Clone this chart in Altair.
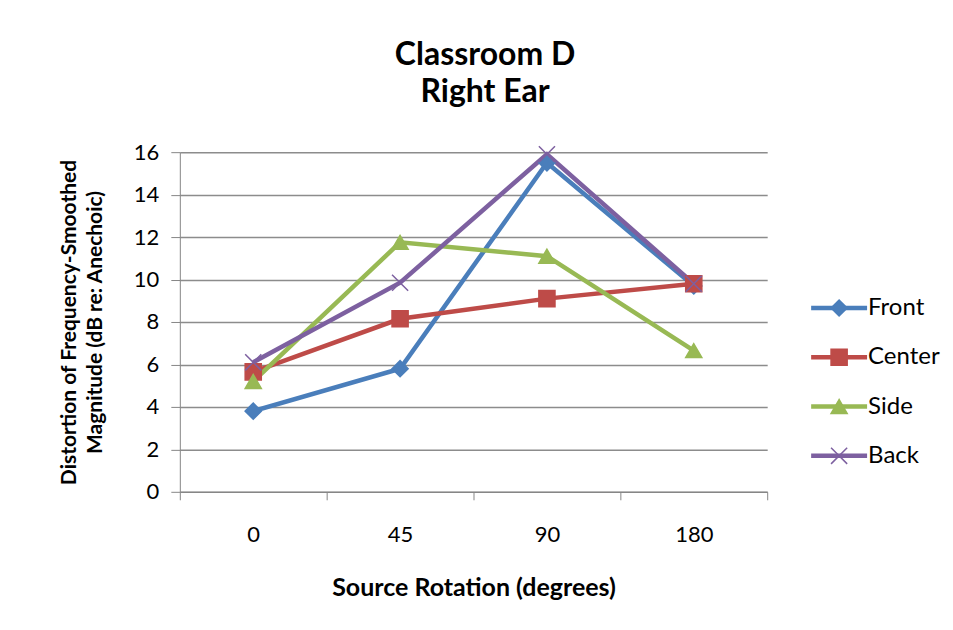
import altair as alt
import pandas as pd

rotations = ["0", "45", "90", "180"]
series_names = ["Front", "Center", "Side", "Back"]
front = [3.8, 5.8, 15.5, 9.7]
center = [5.65, 8.15, 9.1, 9.8]
side = [5.2, 11.75, 11.1, 6.65]
back = [6.1, 9.85, 15.9, 9.8]
colors = ["#4A7EBB", "#BE4B48", "#98B954", "#7D60A0"]
shapes = ["diamond", "square", "triangle-up", "M-1,-1L1,1M-1,1L1,-1"]

rows = []
for name, vals in zip(series_names, [front, center, side, back]):
    for r, v in zip(rotations, vals):
        rows.append({"rotation": r, "value": v, "series": name})
df = pd.DataFrame(rows)
leg = pd.DataFrame({"series": series_names, "idx": list(range(len(series_names)))})

FONT = "Lato"
color_scale = alt.Scale(domain=series_names, range=colors)
shape_scale = alt.Scale(domain=series_names, range=shapes)

x = alt.X("rotation:N", sort=rotations, title="Source Rotation (degrees)",
          scale=alt.Scale(paddingInner=0, paddingOuter=0),
          axis=alt.Axis(labelAngle=0, tickBand="extent", grid=False,
                        domainColor="#868686", tickColor="#868686", tickSize=8,
                        labelPadding=25, titlePadding=30, titleFontSize=25))
y = alt.Y("value:Q", title=["Distortion of Frequency-Smoothed", "Magnitude (dB re: Anechoic)"],
          scale=alt.Scale(domain=[0, 16], nice=False),
          axis=alt.Axis(values=list(range(0, 17, 2)), gridColor="#8c8c8c", gridWidth=1.5,
                        domainColor="#868686", tickColor="#868686", tickSize=9,
                        labelPadding=12, titlePadding=28, titleFontSize=21,
                        titleLineHeight=26))

base = alt.Chart(df)
lines = base.mark_line(strokeWidth=4.5).encode(
    x=x, y=y,
    color=alt.Color("series:N", scale=color_scale, legend=None),
    detail="series:N",
)
points = base.mark_point(filled=True, size=260, strokeWidth=1.5, opacity=1).encode(
    x=x, y=y,
    color=alt.Color("series:N", scale=color_scale, legend=None),
    stroke=alt.Stroke("series:N", scale=color_scale, legend=None),
    shape=alt.Shape("series:N", scale=shape_scale, legend=None),
)
main = alt.layer(lines, points).properties(width=588, height=340)

ly = alt.Y("idx:Q", axis=None, scale=alt.Scale(domain=[0, 3], range=[156, 304]))
lbase = alt.Chart(leg)
lrule = lbase.mark_rule(strokeWidth=4.5).encode(
    x=alt.value(0), x2=alt.value(56), y=ly,
    color=alt.Color("series:N", scale=color_scale, legend=None))
lpts = lbase.mark_point(filled=True, size=260, strokeWidth=1.5, opacity=1).encode(
    x=alt.value(28), y=ly,
    color=alt.Color("series:N", scale=color_scale, legend=None),
    stroke=alt.Stroke("series:N", scale=color_scale, legend=None),
    shape=alt.Shape("series:N", scale=shape_scale, legend=None))
ltext = lbase.mark_text(align="left", baseline="middle", fontSize=24, font=FONT, color="black").encode(
    x=alt.value(57), y=ly, text="series:N")
legend = alt.layer(lrule, lpts, ltext).properties(width=120, height=340)

chart = alt.hconcat(main, legend, spacing=40).properties(
    title=alt.TitleParams(["Classroom D", "Right Ear"], fontSize=32, font=FONT,
                          fontWeight="bold", lineHeight=37, anchor="middle", offset=32, dx=-14),
    padding={"left": 50, "top": 31, "right": 5, "bottom": 5},
    background="white",
).configure_view(stroke=None).configure_axis(
    labelFont=FONT, titleFont=FONT, labelFontSize=22,
    labelColor="black", titleColor="black", titleFontWeight="bold",
)

chart.save("out.html", embed_options={"renderer": "svg", "actions": False})
